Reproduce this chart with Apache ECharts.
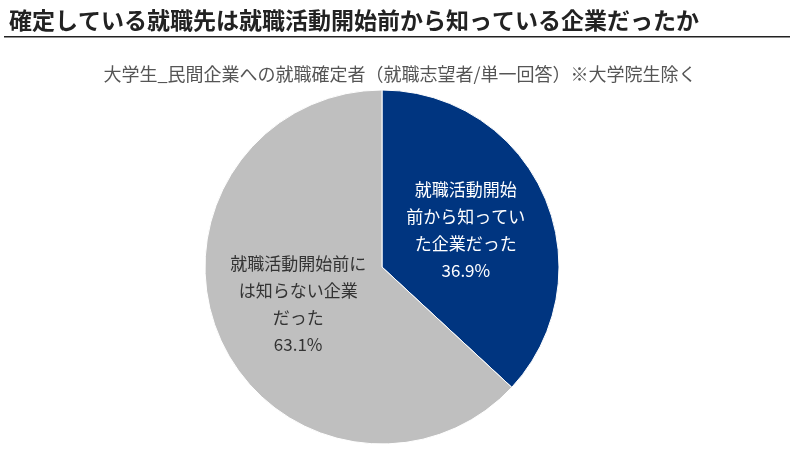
<!DOCTYPE html>
<html><head><meta charset="utf-8">
<script src="https://cdn.jsdelivr.net/npm/echarts@6/dist/echarts.min.js"></script>
<style>body{margin:0;background:#fff}#c{width:800px;height:452px}</style>
</head><body><div id="c"></div>
<script>
const categories = ['就職活動開始\n前から知ってい\nた企業だった', '就職活動開始前に\nは知らない企業\nだった'];
const values = [36.9, 63.1];
const colors = ['#003580', '#BFBFBF'];
const labelColors = ['#ffffff', '#333333'];
const chart = echarts.init(document.getElementById('c'));
chart.setOption({
  backgroundColor: '#fff',
  title: [{
    text: '確定している就職先は就職活動開始前から知っている企業だったか',
    left: 4, top: 4,
    textStyle: {fontFamily: 'Noto Sans CJK JP', fontSize: 23, fontWeight: 'bold', color: '#222'}
  }, {
    text: '大学生_民間企業への就職確定者（就職志望者/単一回答）※大学院生除く',
    left: 'center', top: 60,
    textStyle: {fontFamily: 'Noto Sans CJK JP', fontSize: 18, fontWeight: 'normal', color: '#555'}
  }],
  graphic: [{type: 'rect', shape: {x: 4, y: 36, width: 786, height: 1.5}, style: {fill: '#222'}}],
  series: [{
    type: 'pie', center: [382, 267], radius: 177, startAngle: 90, clockwise: true,
    data: categories.map((n, i) => ({name: n, value: values[i],
      itemStyle: {color: colors[i]},
      label: {color: labelColors[i]}})),
    label: {position: 'inside', fontFamily: 'Noto Sans CJK JP', fontSize: 17, lineHeight: 27,
      formatter: p => p.name + '\n' + p.value.toFixed(1) + '%'},
    itemStyle: {borderColor: '#fff', borderWidth: 1},
    emphasis: {disabled: true}, animation: false
  }]
});
</script></body></html>
